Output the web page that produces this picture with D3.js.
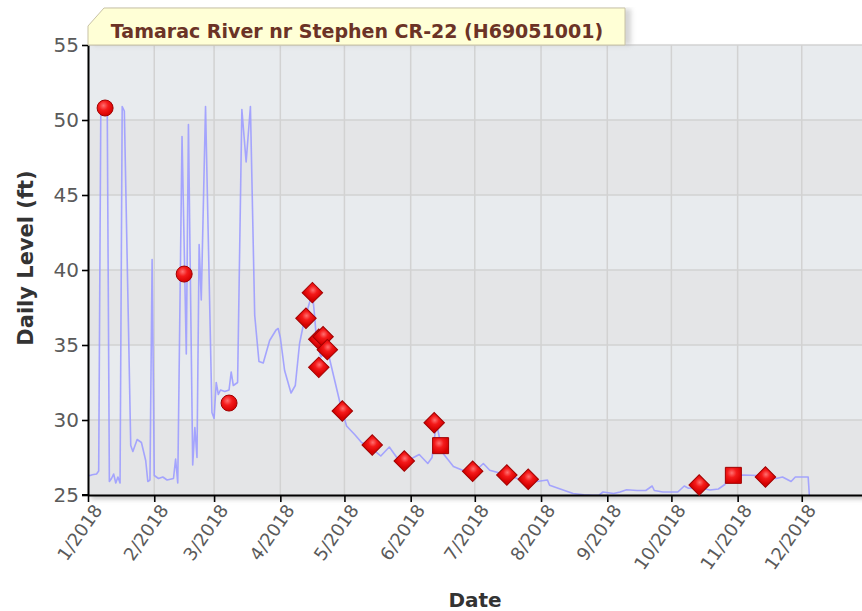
<!DOCTYPE html>
<html>
<head>
<meta charset="utf-8">
<script src="https://cdn.jsdelivr.net/npm/d3@7"></script>
<style>
  body { margin: 0; background: #fff; }
  .axis text { font-family: "DejaVu Sans", Verdana, sans-serif; fill: #555; }
  .axis .domain, .axis line { stroke: #000; }
</style>
</head>
<body>
<script>
// ---- data ----
var chartTitle = "Tamarac River nr Stephen CR-22 (H69051001)";
var yTicks = [25, 30, 35, 40, 45, 50, 55];

// daily level line
var lineDates = ["2018-01-01","2018-01-02","2018-01-03","2018-01-05","2018-01-06","2018-01-07","2018-01-08","2018-01-09","2018-01-10","2018-01-11",
  "2018-01-12","2018-01-13","2018-01-14","2018-01-15","2018-01-16","2018-01-17","2018-01-18","2018-01-21","2018-01-22","2018-01-24",
  "2018-01-26","2018-01-28","2018-01-29","2018-01-30","2018-01-31","2018-02-01","2018-02-03","2018-02-05","2018-02-07","2018-02-10",
  "2018-02-11","2018-02-12","2018-02-14","2018-02-16","2018-02-17","2018-02-19","2018-02-20","2018-02-21","2018-02-22","2018-02-23",
  "2018-02-25","2018-02-28","2018-03-01","2018-03-02","2018-03-03","2018-03-04","2018-03-06","2018-03-08","2018-03-09","2018-03-10",
  "2018-03-12","2018-03-14","2018-03-16","2018-03-18","2018-03-20","2018-03-22","2018-03-24","2018-03-26","2018-03-27","2018-03-30",
  "2018-03-31","2018-04-01","2018-04-03","2018-04-06","2018-04-08","2018-04-10","2018-04-12","2018-04-14","2018-04-16","2018-04-17",
  "2018-04-18","2018-04-20","2018-04-23","2018-04-26","2018-04-29","2018-05-02","2018-05-06","2018-05-09","2018-05-13","2018-05-18",
  "2018-05-22","2018-05-26","2018-06-01","2018-06-05","2018-06-09","2018-06-11","2018-06-13","2018-06-16","2018-06-21","2018-06-27",
  "2018-07-02","2018-07-05","2018-07-08","2018-07-13","2018-07-21","2018-07-30","2018-08-04","2018-08-05","2018-08-11","2018-08-16",
  "2018-08-21","2018-08-25","2018-08-28","2018-08-30","2018-09-04","2018-09-07","2018-09-10","2018-09-15","2018-09-19","2018-09-22",
  "2018-09-23","2018-09-27","2018-10-04","2018-10-07","2018-10-09","2018-10-14","2018-10-19","2018-10-23","2018-10-26","2018-10-28",
  "2018-11-04","2018-11-10","2018-11-19","2018-11-22","2018-11-26","2018-11-28","2018-12-04","2018-12-05"];
var lineLevels = [26.3,26.3,26.35,26.4,26.6,50.8,50.9,50.8,50.9,25.9,
  26.1,26.4,25.8,26.2,25.8,50.9,50.6,28.3,27.9,28.7,
  28.5,27.3,25.9,26.0,40.7,26.3,26.1,26.2,26.0,26.1,
  27.4,25.8,48.9,34.4,49.7,27.0,29.5,27.5,41.7,38.0,
  50.9,30.5,30.1,32.5,31.7,32.0,31.9,32.0,33.2,32.3,
  32.5,50.7,47.2,50.9,37.0,33.9,33.8,34.8,35.3,36.0,
  36.1,35.5,33.3,31.8,32.3,35.1,36.5,37.5,38.5,37.0,
  35.2,34.2,34.7,32.9,31.1,29.6,29.0,28.5,28.2,27.6,
  28.2,27.4,27.4,27.7,27.1,27.5,29.8,27.8,26.9,26.55,
  26.7,27.1,26.65,26.45,26.1,25.9,26.0,25.65,25.35,25.1,
  25.02,24.98,24.98,25.2,25.1,25.2,25.35,25.3,25.3,25.6,
  25.3,25.2,25.2,25.6,25.45,25.5,25.33,25.4,25.7,26.3,
  26.33,26.3,26.1,26.2,25.9,26.2,26.2,24.0];

// measurements
var circleDates = ["2018-01-09","2018-02-15","2018-03-08"];
var circleLevels = [50.8, 39.73, 31.13];
var diamondDates = ["2018-04-13","2018-04-16","2018-04-19","2018-04-19","2018-04-21","2018-04-23","2018-04-30","2018-05-14",
  "2018-05-29","2018-06-12","2018-06-30","2018-07-16","2018-07-26","2018-10-14","2018-11-14"];
var diamondLevels = [36.78, 38.49, 33.51, 35.38, 35.55, 34.69, 30.6, 28.33,
  27.27, 29.82, 26.58, 26.33, 26.05, 25.67, 26.2];
var squareDates = ["2018-06-15","2018-10-30"];
var squareLevels = [28.29, 26.31];

// ---- layout ----
var margin = {top: 45, right: 0, bottom: 116, left: 88},
  width = 780,
  height = 611 - margin.top - margin.bottom;

var parseDate = d3.timeParse("%Y-%m-%d");

var x = d3.scaleTime()
  .domain([new Date(2018, 0, 1), new Date(2019, 0, 1)])
  .range([0, width]);
var y = d3.scaleLinear().domain([25, 55]).range([height, 0]);

var svg0 = d3.select("body").append("svg")
  .attr("width", 862)
  .attr("height", 611);

var defs = svg0.append("defs");
var blur = defs.append("filter").attr("id", "shadow")
  .attr("x", "-5%").attr("y", "-5%").attr("width", "110%").attr("height", "120%");
blur.append("feGaussianBlur").attr("stdDeviation", 2.5);

var grad = defs.append("radialGradient").attr("id", "redball")
  .attr("cx", "40%").attr("cy", "35%").attr("r", "65%");
grad.append("stop").attr("offset", "0%").attr("stop-color", "#ff7070");
grad.append("stop").attr("offset", "45%").attr("stop-color", "#f41a1a");
grad.append("stop").attr("offset", "100%").attr("stop-color", "#d60000");

defs.append("clipPath").attr("id", "plotclip")
  .append("rect").attr("width", width).attr("height", height);

var svg = svg0.append("g")
  .attr("transform", "translate(" + margin.left + "," + margin.top + ")");

// shadow behind plot area
svg.append("rect")
  .attr("x", 3).attr("y", 4)
  .attr("width", width).attr("height", height)
  .attr("fill", "#9a9a9a").attr("opacity", 0.6)
  .attr("filter", "url(#shadow)");

// alternating bands
svg.selectAll(".band")
  .data(yTicks.slice(0, -1))
  .enter().append("rect")
  .attr("class", "band")
  .attr("x", 0)
  .attr("y", function(d) { return y(d + 5); })
  .attr("width", width)
  .attr("height", function(d) { return y(d) - y(d + 5); })
  .attr("fill", function(d, i) { return i % 2 == 0 ? "#e4e5e7" : "#e8ebee"; });

// grid
var months = x.ticks(d3.timeMonth.every(1)).filter(function(d) { return d.getFullYear() == 2018; });
svg.selectAll(".vgrid")
  .data(months.slice(1))
  .enter().append("line")
  .attr("x1", function(d) { return x(d); })
  .attr("x2", function(d) { return x(d); })
  .attr("y1", 0).attr("y2", height)
  .attr("stroke", "#d2d2d2").attr("stroke-width", 1.5);
svg.selectAll(".hgrid")
  .data(yTicks.slice(1))
  .enter().append("line")
  .attr("x1", 0).attr("x2", width)
  .attr("y1", function(d) { return y(d); })
  .attr("y2", function(d) { return y(d); })
  .attr("stroke", "#d2d2d2").attr("stroke-width", 1.5);

// level line
var lineData = lineDates.map(function(d, i) { return {date: parseDate(d), level: lineLevels[i]}; });
var valueline = d3.line()
  .x(function(d) { return x(d.date); })
  .y(function(d) { return y(d.level); });
svg.append("path")
  .datum(lineData)
  .attr("clip-path", "url(#plotclip)")
  .attr("fill", "none")
  .attr("stroke", "#9c9cff")
  .attr("stroke-opacity", 0.9)
  .attr("stroke-width", 1.6)
  .attr("stroke-linejoin", "round")
  .attr("d", valueline);

// axes
var yAxis = svg.append("g")
  .attr("class", "axis")
  .call(d3.axisLeft(y).tickValues(yTicks).tickSize(6).tickSizeOuter(0).tickPadding(3));
yAxis.selectAll("text").style("font-size", "20px").style("fill", "#5a5a5a");

var xAxis = svg.append("g")
  .attr("class", "axis")
  .attr("transform", "translate(0," + height + ")")
  .call(d3.axisBottom(x).tickValues(months).tickFormat(d3.timeFormat("%-m/%Y")).tickSize(7).tickSizeOuter(0));
xAxis.selectAll("text")
  .style("font-size", "18px")
  .style("fill", "#5a5a5a")
  .style("text-anchor", "end")
  .attr("x", -4)
  .attr("y", 8)
  .attr("dy", "0.7em")
  .attr("transform", "rotate(-55)");
svg.selectAll(".axis .domain").attr("stroke-width", 2);
svg.selectAll(".axis line").attr("stroke-width", 1.6);
// extend bottom axis slightly left of origin
svg.append("line")
  .attr("x1", -6).attr("x2", 0)
  .attr("y1", height).attr("y2", height)
  .attr("stroke", "#000").attr("stroke-width", 2);

// markers
function markerData(dates, levels) {
  return dates.map(function(d, i) { return {date: parseDate(d), level: levels[i]}; });
}
svg.selectAll(".circ")
  .data(markerData(circleDates, circleLevels))
  .enter().append("circle")
  .attr("cx", function(d) { return x(d.date); })
  .attr("cy", function(d) { return y(d.level); })
  .attr("r", 8)
  .attr("fill", "url(#redball)")
  .attr("stroke", "#a00000").attr("stroke-width", 1);

svg.selectAll(".diam")
  .data(markerData(diamondDates, diamondLevels))
  .enter().append("path")
  .attr("d", d3.symbol().type(d3.symbolSquare).size(210))
  .attr("transform", function(d) { return "translate(" + x(d.date) + "," + y(d.level) + ") rotate(45)"; })
  .attr("fill", "url(#redball)")
  .attr("stroke", "#a00000").attr("stroke-width", 1);

svg.selectAll(".sq")
  .data(markerData(squareDates, squareLevels))
  .enter().append("path")
  .attr("d", d3.symbol().type(d3.symbolSquare).size(256))
  .attr("transform", function(d) { return "translate(" + x(d.date) + "," + y(d.level) + ")"; })
  .attr("fill", "url(#redball)")
  .attr("stroke", "#a00000").attr("stroke-width", 1);

// axis titles
svg0.append("text")
  .attr("transform", "translate(33," + (margin.top + height / 2 - 12) + ") rotate(-90)")
  .attr("text-anchor", "middle")
  .style("font-family", "DejaVu Sans, Verdana, sans-serif")
  .style("font-weight", "bold")
  .style("font-size", "21px")
  .style("fill", "#333")
  .text("Daily Level (ft)");
svg0.append("text")
  .attr("x", 475).attr("y", 607)
  .attr("text-anchor", "middle")
  .style("font-family", "DejaVu Sans, Verdana, sans-serif")
  .style("font-weight", "bold")
  .style("font-size", "20px")
  .style("fill", "#333")
  .text("Date");

// title tab
var tab = svg0.append("g");
tab.append("path")
  .attr("d", "M90,45 L90,27 L106,9 L628,9 L628,45")
  .attr("fill", "#aaa").attr("opacity", 0.5)
  .attr("filter", "url(#shadow)")
  .attr("transform", "translate(3,0)");
tab.append("path")
  .attr("d", "M88,45 L88,26 L104,8 L625,8 L625,45 Z")
  .attr("fill", "#ffffd6")
  .attr("stroke", "#c9c3a6").attr("stroke-width", 1);
tab.append("text")
  .attr("x", 357).attr("y", 38)
  .attr("text-anchor", "middle")
  .style("font-family", "DejaVu Sans, Verdana, sans-serif")
  .style("font-weight", "bold")
  .style("font-size", "19px")
  .style("fill", "#6b3326")
  .text(chartTitle);
</script>
</body>
</html>
